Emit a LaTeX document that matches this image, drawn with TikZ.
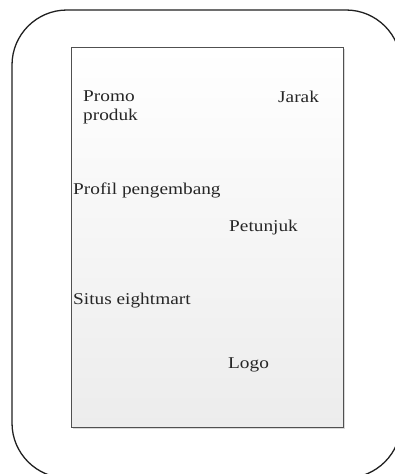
\documentclass[tikz,border=0pt]{standalone}
\usepackage{fontspec}
\setmainfont{Liberation Serif}[FakeStretch=1.17]
\usetikzlibrary{shadows}
\definecolor{framegray}{HTML}{202020}
\definecolor{boxline}{HTML}{505050}
\definecolor{boxbottom}{HTML}{ECECEC}
\tikzset{
  lbl/.style={anchor=base west, inner sep=0pt, font=\fontsize{16.5}{18.5}\selectfont, text=black!85, align=left},
}
\begin{document}
\begin{tikzpicture}[x=1pt,y=-1pt]
\useasboundingbox (0,0) rectangle (395,474);
\clip (0,0) rectangle (395,474);
% outer device frame
\draw[framegray, line width=1.3pt, rounded corners=55pt] (12,10) rectangle (401,478);
% screen shadow
\fill[black!15] (73,49) rectangle (345,429);
% screen
\node[draw=boxline, line width=0.9pt, top color=white, bottom color=boxbottom, minimum width=272pt, minimum height=380pt, inner sep=0pt, anchor=north west] (screen) at (71,47) {};
% labels
\node[lbl] (promo) at (83,120) {Promo\\produk};
\node[lbl] (jarak) at (278,102) {Jarak};
\node[lbl] (profil) at (73,194) {Profil pengembang};
\node[lbl] (petunjuk) at (229,231) {Petunjuk};
\node[lbl] (situs) at (73,304) {Situs eightmart};
\node[lbl] (logo) at (228,368) {Logo};
\end{tikzpicture}
\end{document}
